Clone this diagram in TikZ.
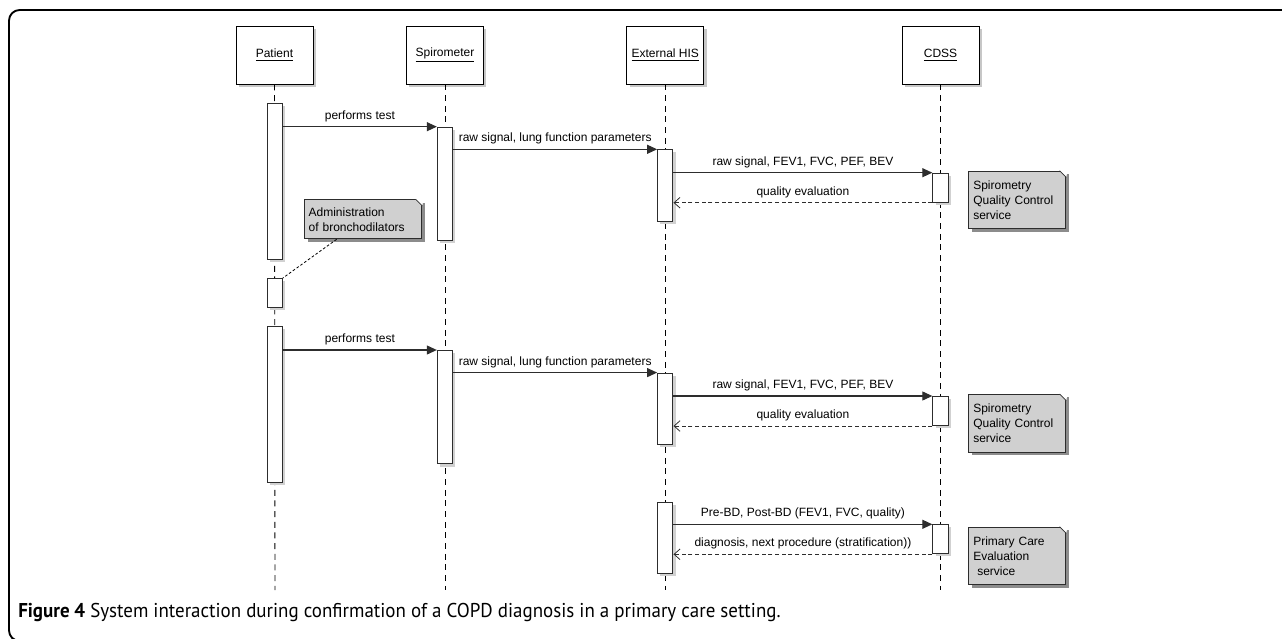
\documentclass[tikz,border=0pt]{standalone}
\usepackage{graphicx}
\usepackage{fontspec}
\setmainfont{Liberation Sans}
\newfontfamily\capfont{PT Sans}
\usepackage{tikz}
\usetikzlibrary{arrows.meta,shapes}
\usetikzlibrary{positioning}
\usetikzlibrary{shadows}
\definecolor{notegray}{RGB}{208,208,208}
\definecolor{linegray}{RGB}{45,45,45}
\tikzset{
    head/.style={draw=black, fill=white, line width=0.65pt,
        minimum width=57.75pt, minimum height=43.5pt, inner sep=0pt,
        drop shadow={shadow xshift=2.2pt, shadow yshift=-2.2pt, fill=black!22, opacity=1}},
    lifeline/.style={draw=black, line width=0.7pt, dash pattern=on 4.5pt off 3.5pt},
    actbar/.style={draw=linegray, fill=white, line width=0.75pt,
        minimum width=11.5pt, inner sep=0pt,
        drop shadow={shadow xshift=2pt, shadow yshift=-2pt, fill=black!18, opacity=1}},
    call/.style={draw=linegray, line width=0.8pt, -{Triangle[length=7.5pt,width=6.75pt]}},
    reply/.style={draw=linegray, line width=0.7pt, dash pattern=on 3pt off 2pt,
        -{Straight Barb[length=4.5pt,width=8pt,line width=0.6pt]}},
    notebox/.style={draw=linegray, fill=notegray, line width=0.75pt, anchor=north west,
        align=left, inner sep=2.5pt, text width=66pt,
        minimum width=72.75pt, minimum height=43.2pt,
        drop shadow={shadow xshift=2.2pt, shadow yshift=-2.2pt, fill=black!45, opacity=1}},
    notefold/.style={draw=linegray, line width=0.5pt},
    noteline/.style={draw=black, line width=0.6pt, dash pattern=on 2pt off 1.5pt},
}

\begin{document}
\begin{tikzpicture}[x=0.75pt, y=-0.75pt, font=\fontsize{9}{11.25}\selectfont]
\useasboundingbox (0,0) rectangle (1282,639);
\draw[line width=1.4pt, rounded corners=8pt] (1300,10)--(9,10)--(9,641)--(1300,641);
%
\node[head] (pat) at (274.5,55) {\underline{Patient}};
\node[head] (spi) at (445,55) {\underline{Spirometer}};
\node[head] (his) at (665.3,55) {\underline{External HIS}};
\node[head] (cds) at (940.5,55) {\underline{CDSS}};
\coordinate (patend) at (275,590);
\coordinate (spiend) at (445,590);
\coordinate (hisend) at (665.3,590);
\coordinate (cdsend) at (940.5,590);
\draw[lifeline] (pat.south) -- (patend);
\draw[lifeline] (spi.south) -- (spiend);
\draw[lifeline] (his.south) -- (hisend);
\draw[lifeline] (cds.south) -- (cdsend);
%
\begin{scope}
	\node[actbar, minimum height=117pt, anchor=north] (pa1) at (274.7,103) {};
	\node[actbar, minimum height=85pt, anchor=north] (sp1) at (445,126.7) {};
	\node[actbar, minimum height=53.5pt, anchor=north] (hi1) at (665.3,149.3) {};
	\node[actbar, minimum height=21.75pt, anchor=north] (cd1) at (940.5,172.7) {};
	\draw[call] (pa1.east |- sp1.north) -- node[above] {performs test} (sp1.north west);
	\draw[call] (sp1.east |- hi1.north) -- node[above] {raw signal, lung function parameters} (hi1.north west);
	\draw[call] (hi1.east |- cd1.north) -- node[above] {raw signal, FEV1, FVC, PEF, BEV} (cd1.north west);
	\draw[reply] (cd1.south west) -- node[above] {quality evaluation} (hi1.east |- cd1.south);
	\node[notebox] (q1) at (968.3,170.7) {Spirometry\\Quality Control\\service};
	\fill[white] ([xshift=-5pt]q1.north east) -- ([xshift=1pt,yshift=1pt]q1.north east) -- ([yshift=-5pt]q1.north east) -- cycle;
	\draw[notefold] ([xshift=-5pt]q1.north east) -- ([yshift=-5pt]q1.north east);
\end{scope}
%
\node[actbar, minimum height=21.75pt, anchor=north] (pb) at (274.7,278) {};
\node[notebox, text width=82pt, minimum width=87.75pt, minimum height=29.25pt] (adm) at (304.3,199.3) {Administration\\of bronchodilators};
\fill[white] ([xshift=-5pt]adm.north east) -- ([xshift=1pt,yshift=1pt]adm.north east) -- ([yshift=-5pt]adm.north east) -- cycle;
\draw[notefold] ([xshift=-5pt]adm.north east) -- ([yshift=-5pt]adm.north east);
\draw[noteline] ([xshift=-20pt]adm.south) -- (pb.north east);
%
\begin{scope}[shift={(0,223.3)}]
	\node[actbar, minimum height=117pt, anchor=north] (pa2) at (274.7,103) {};
	\node[actbar, minimum height=85pt, anchor=north] (sp2) at (445,126.7) {};
	\node[actbar, minimum height=53.5pt, anchor=north] (hi2) at (665.3,149.3) {};
	\node[actbar, minimum height=21.75pt, anchor=north] (cd2) at (940.5,172.7) {};
	\draw[call] (pa2.east |- sp2.north) -- node[above] {performs test} (sp2.north west);
	\draw[call] (sp2.east |- hi2.north) -- node[above] {raw signal, lung function parameters} (hi2.north west);
	\draw[call] (hi2.east |- cd2.north) -- node[above] {raw signal, FEV1, FVC, PEF, BEV} (cd2.north west);
	\draw[reply] (cd2.south west) -- node[above] {quality evaluation} (hi2.east |- cd2.south);
	\node[notebox] (q2) at (968.3,170.7) {Spirometry\\Quality Control\\service};
	\fill[white] ([xshift=-5pt]q2.north east) -- ([xshift=1pt,yshift=1pt]q2.north east) -- ([yshift=-5pt]q2.north east) -- cycle;
	\draw[notefold] ([xshift=-5pt]q2.north east) -- ([yshift=-5pt]q2.north east);
\end{scope}
%
\node[actbar, minimum height=53.5pt, anchor=north] (hi3) at (665.3,501.7) {};
\node[actbar, minimum height=21.75pt, anchor=north] (cd3) at (940.5,524.3) {};
\draw[call] (hi3.east |- cd3.north) -- node[above] {Pre-BD, Post-BD (FEV1, FVC, quality)} (cd3.north west);
\draw[reply] (cd3.south west) -- node[above] {diagnosis, next procedure (stratification))} (hi3.east |- cd3.south);
\node[notebox] (q3) at (968.3,526.7) {Primary Care\\Evaluation\\\ service};
\fill[white] ([xshift=-5pt]q3.north east) -- ([xshift=1pt,yshift=1pt]q3.north east) -- ([yshift=-5pt]q3.north east) -- cycle;
\draw[notefold] ([xshift=-5pt]q3.north east) -- ([yshift=-5pt]q3.north east);
%
\node[anchor=base west, inner sep=0pt, font=\capfont\fontsize{15}{18}\selectfont] (cap) at (18,617)
	{\scalebox{0.948}[1]{\textbf{Figure 4} System interaction during confirmation of a COPD diagnosis in a primary care setting.}};
\end{tikzpicture}
\end{document}
